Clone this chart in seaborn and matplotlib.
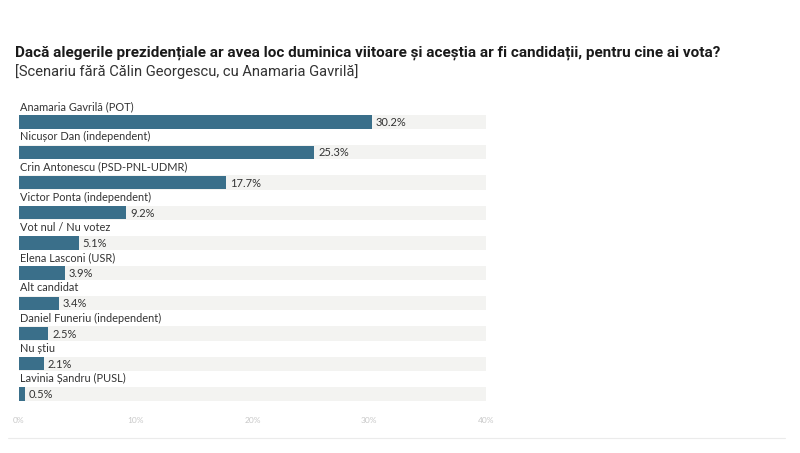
import matplotlib
matplotlib.use("Agg")
import matplotlib.pyplot as plt
import seaborn as sns
import pandas as pd

# data
candidates = [
    "Anamaria Gavrilă (POT)",
    "Nicușor Dan (independent)",
    "Crin Antonescu (PSD-PNL-UDMR)",
    "Victor Ponta (independent)",
    "Vot nul / Nu votez",
    "Elena Lasconi (USR)",
    "Alt candidat",
    "Daniel Funeriu (independent)",
    "Nu știu",
    "Lavinia Șandru (PUSL)",
]
percent = [30.2, 25.3, 17.7, 9.2, 5.1, 3.9, 3.4, 2.5, 2.1, 0.5]
x_max = 40
x_ticks = [0, 10, 20, 30, 40]

df = pd.DataFrame({"candidate": candidates, "percent": percent, "full": [x_max] * len(candidates)})

sns.set_style("white")
plt.rcParams["font.family"] = ["Lato", "DejaVu Sans"]

W, H = 800, 453
fig = plt.figure(figsize=(8, 4.53), dpi=100)
# axes placed in pixel coords: x 19..486, y 107..409
ax = fig.add_axes([19 / W, 1 - 409 / H, (486 - 19) / W, (409 - 107) / H])

# background tracks
sns.barplot(data=df, x="full", y="candidate", color="#f3f3f1", width=0.47,
            ax=ax, saturation=1, edgecolor="none")
# actual values
sns.barplot(data=df, x="percent", y="candidate", color="#3a6f8a", width=0.44,
            ax=ax, saturation=1, edgecolor="none")

ax.set_xlim(0, x_max)
ax.set_ylim(len(candidates) - 0.5, -0.5)
ax.set_xlabel("")
ax.set_ylabel("")
ax.set_yticks([])
ax.set_xticks(x_ticks)
ax.set_xticklabels([f"{t}%" for t in x_ticks], fontsize=6, color="#c8c8c8")
ax.tick_params(axis="x", length=5, width=0.6, color="#dddddd", pad=1, direction="out")
for s in ax.spines.values():
    s.set_visible(False)

for i, (name, val) in enumerate(zip(candidates, percent)):
    ax.text(0.05, i - 0.33, name, fontsize=7.95, color="#333333", va="bottom", ha="left")
    ax.text(val + 0.35, i + 0.02, f"{val}%", fontsize=8, color="#333333", va="center", ha="left")

fig.text(15 / W, 1 - 53 / H, "Dacă alegerile prezidențiale ar avea loc duminica viitoare și aceștia ar fi candidații, pentru cine ai vota?",
         fontsize=11, fontweight="bold", family=["Roboto", "DejaVu Sans"], color="#1a1a1a", va="center")
fig.text(15 / W, 1 - 72 / H, "[Scenariu fără Călin Georgescu, cu Anamaria Gavrilă]",
         fontsize=10.6, family=["Roboto", "DejaVu Sans"], color="#333333", va="center")

fig.add_artist(plt.Line2D([8 / W, 785 / W], [1 - 438 / H, 1 - 438 / H], color="#ebebeb", lw=0.8))

fig.savefig("out.png", dpi=100)
